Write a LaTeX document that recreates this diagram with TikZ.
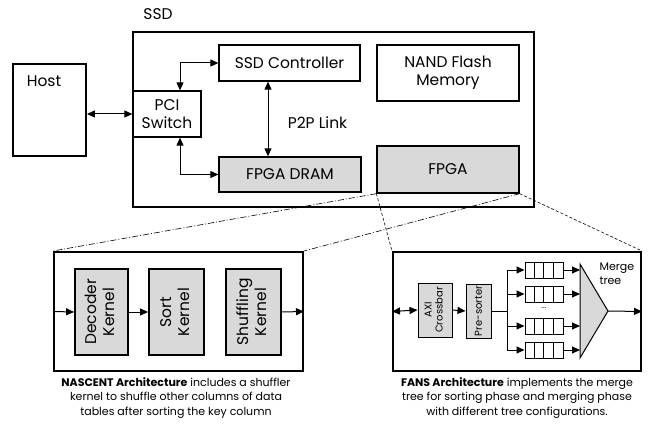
\documentclass[tikz,border=0pt]{standalone}
\usepackage{fontspec}
\setmainfont{Poppins}
\usetikzlibrary{positioning,calc,arrows.meta}

\begin{document}
\begin{tikzpicture}[x=1pt,y=-1pt,
    box/.style={draw, line width=1.3pt, rectangle, inner sep=0pt, font=\fontsize{15.5}{18}\selectfont, align=center},
    gbox/.style={box, fill=gray!30},
    frame/.style={draw, line width=2pt, rectangle, inner sep=0pt},
    kernel/.style={gbox, line width=1.8pt, minimum width=55pt, minimum height=86pt},
    small/.style={draw, line width=1pt, fill=gray!30, inner sep=0pt, font=\fontsize{10}{11}\selectfont, align=center},
    queue/.style={draw, line width=1pt, rectangle, minimum width=38pt, minimum height=16pt, inner sep=0pt},
    link/.style={line width=1pt, -{Triangle[length=8pt,width=7pt]}},
    dlink/.style={line width=1pt, {Triangle[length=8pt,width=7pt]}-{Triangle[length=8pt,width=7pt]}},
    zoomline/.style={line width=0.6pt, dash pattern=on 6pt off 2pt on 1pt off 2pt},
    caption/.style={align=center, font=\fontsize{11}{14.5}\selectfont}
]
    \useasboundingbox (0,0) rectangle (654,425);

    % Host and SSD
    \node [box, line width=1.8pt, minimum width=73pt, minimum height=92pt] (host) at (49.5,110) {};
    \node [font=\fontsize{15.5}{18}\selectfont] (hostlabel) at (44,81) {Host};
    \node [font=\fontsize{15.5}{18}\selectfont] (ssdlabel) at (158,14) {SSD};
    \node [frame, minimum width=401pt, minimum height=175pt] (ssd) at (333.5,119.5) {};

    % SSD internals
    \node [box, minimum width=68pt, minimum height=46pt] (pci) at (167,114) {PCI\\Switch};
    \node [box, minimum width=141pt, minimum height=36pt] (ctrl) at (289.5,63) {SSD Controller};
    \node [gbox, minimum width=142pt, minimum height=35pt] (dram) at (290,174.5) {FPGA DRAM};
    \node [box, minimum width=142pt, minimum height=56pt] (nand) at (448,73) {NAND Flash\\Memory};
    \node [gbox, minimum width=142pt, minimum height=47pt] (fpga) at (448,169.5) {FPGA};
    \node [font=\fontsize{15.5}{18}\selectfont] (p2p) at (317.5,123) {P2P Link};

    \draw [dlink] (pci.west -| host.east) -- (pci.west);
    \draw [dlink] ([xshift=13pt]pci.north) |- (ctrl.west);
    \draw [dlink] ([xshift=13pt]pci.south) |- (dram.west);
    \draw [dlink] ([xshift=-21.5pt]ctrl.south) -- ([xshift=-22pt]dram.north);

    % NASCENT
    \node [frame, minimum width=249pt, minimum height=119pt] (nascent) at (178.5,311.5) {};
    \node [kernel, minimum width=53pt] (dec) at (101.5,312) {\rotatebox{90}{\begin{tabular}{@{}c@{}}Decoder\\Kernel\end{tabular}}};
    \node [kernel] (sort) at (176.5,312) {\rotatebox{90}{\begin{tabular}{@{}c@{}}Sort\\Kernel\end{tabular}}};
    \node [kernel] (shuf) at (253.5,312) {\rotatebox{90}{\begin{tabular}{@{}c@{}}Shuffling\\Kernel\end{tabular}}};
    \draw [link] (nascent.west) -- (dec.west);
    \draw [link] (dec) -- (sort);
    \draw [link] (shuf.east) -- (nascent.east);
    \node [caption] (nascentcap) at (176,398) {\textbf{NASCENT Architecture} includes a shuffler\\kernel to shuffle other columns of data\\tables after sorting the key column};

    % FANS
    \node [frame, minimum width=248pt, minimum height=119pt] (fans) at (517,311.5) {};
    \node [small, minimum width=34pt, minimum height=54pt] (axi) at (435,310) {\rotatebox{90}{\begin{tabular}{@{}c@{}}AXI\\Crossbar\end{tabular}}};
    \node [small, minimum width=25pt, minimum height=54pt] (pre) at (478.5,311) {\rotatebox{90}{Pre-sorter}};
    \draw [dlink] (fans.west) -- (axi.west);
    \draw [link] (axi.east) -- (pre.west);
    \coordinate (bus) at (507,311);
    \draw [line width=1pt] (pre.east) -- (bus);
    \draw [line width=1pt] (507,270) -- (507,350);

    % Merge tree
    \coordinate (mtop) at (580,264);
    \coordinate (mbot) at (580,358);
    \coordinate (mt) at (608,311);
    \draw [line width=1pt, fill=gray!30] (mtop) -- (mt) -- (mbot) -- cycle;
    \node [anchor=west, align=left, font=\fontsize{11}{14}\selectfont] (mtlabel) at (596,274) {Merge\\tree};
    \draw [link] (mt) -- (fans.east);

    % Queues
    \foreach \i/\y in {1/270, 2/294, 3/326, 4/350} {
        \node [queue] (q\i) at (544,\y) {};
        \foreach \k in {1,2,3}
            \draw [line width=0.8pt] ([xshift=\k*9.5pt]q\i.north west) -- ([xshift=\k*9.5pt]q\i.south west);
        \draw [link] (bus |- q\i.west) -- (q\i.west);
        \draw [link] (q\i.east) -- (q\i.east -| mtop);
    }
    \node [font=\fontsize{8}{9}\selectfont] (dots) at (544,308) {...};

    \node [caption] (fanscap) at (517,398) {\textbf{FANS Architecture} implements the merge\\tree for sorting phase and merging phase\\with different tree configurations.};

    % Zoom lines
    \draw [zoomline] (fpga.south west) -- (nascent.north west);
    \draw [zoomline] (fpga.south east) -- (nascent.north east);
    \draw [line width=0.6pt, dash pattern=on 3pt off 2pt] (fpga.south west) -- (fans.north west);
    \draw [line width=0.6pt, dash pattern=on 3pt off 2pt] (fpga.south east) -- (fans.north east);
\end{tikzpicture}
\end{document}
